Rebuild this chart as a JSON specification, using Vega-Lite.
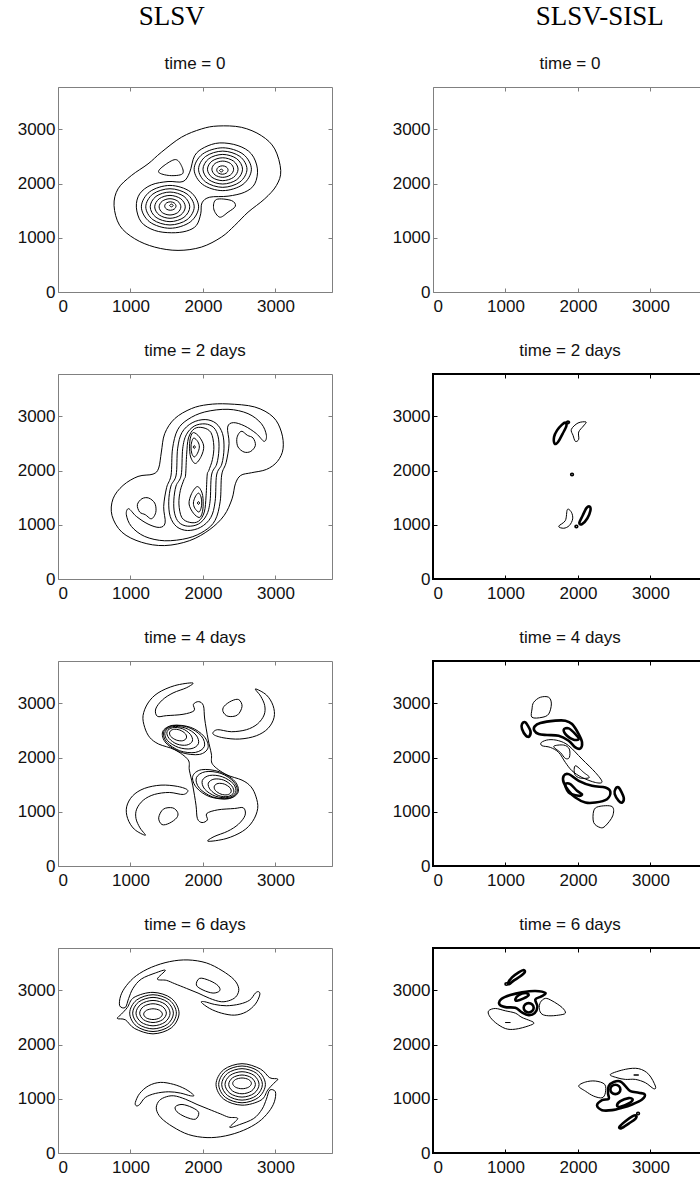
{
"$schema":"https://vega.github.io/schema/vega-lite/v6.json",
"padding":{"left":16,"top":3,"right":0,"bottom":0},
"config":{"font":"Liberation Sans","numberFormat":"d","view":{"stroke":"#808080","strokeWidth":1},
"axis":{"domain":false,"grid":false,"tickSize":-4,"tickColor":"#808080","labelFont":"Liberation Sans","labelFontSize":17,"labelColor":"#111","labelPadding":7,"title":null,"format":"d"},
"axisX":{"labelPadding":10},
"title":{"font":"Liberation Sans","fontSize":17,"fontWeight":"normal","color":"#111","baseline":"alphabetic","offset":14}},
"data":{"values":[
{"p":"L1","c":1,"s":"+","x":2208,"y":3061},{"p":"L1","c":1,"s":"+","x":2530,"y":3037},{"p":"L1","c":1,"s":"+","x":2806,"y":2883},{"p":"L1","c":1,"s":"+","x":2990,"y":2638},{"p":"L1","c":1,"s":"+","x":3073,"y":2239},{"p":"L1","c":1,"s":"+","x":3013,"y":1963},{"p":"L1","c":1,"s":"+","x":2852,"y":1718},{"p":"L1","c":1,"s":"+","x":2622,"y":1472},{"p":"L1","c":1,"s":"+","x":2438,"y":1227},{"p":"L1","c":1,"s":"+","x":2254,"y":1012},{"p":"L1","c":1,"s":"+","x":1978,"y":828},{"p":"L1","c":1,"s":"+","x":1656,"y":767},{"p":"L1","c":1,"s":"+","x":1334,"y":828},{"p":"L1","c":1,"s":"+","x":1058,"y":982},{"p":"L1","c":1,"s":"+","x":851,"y":1227},{"p":"L1","c":1,"s":"+","x":773,"y":1595},{"p":"L1","c":1,"s":"+","x":828,"y":1902},{"p":"L1","c":1,"s":"+","x":1012,"y":2147},{"p":"L1","c":1,"s":"+","x":1242,"y":2362},{"p":"L1","c":1,"s":"+","x":1426,"y":2577},{"p":"L1","c":1,"s":"+","x":1702,"y":2853},{"p":"L1","c":1,"s":"+","x":1978,"y":3006},
{"p":"L1","c":2,"s":"+","x":1619,"y":2442},{"p":"L1","c":2,"s":"+","x":1702,"y":2331},{"p":"L1","c":2,"s":"+","x":1716,"y":2178},{"p":"L1","c":2,"s":"+","x":1541,"y":2147},{"p":"L1","c":2,"s":"+","x":1389,"y":2209},{"p":"L1","c":2,"s":"+","x":1463,"y":2331},
{"p":"L1","c":3,"s":"+","x":2185,"y":1706},{"p":"L1","c":3,"s":"+","x":2392,"y":1687},{"p":"L1","c":3,"s":"+","x":2447,"y":1583},{"p":"L1","c":3,"s":"+","x":2346,"y":1472},{"p":"L1","c":3,"s":"+","x":2231,"y":1380},{"p":"L1","c":3,"s":"+","x":2148,"y":1534},
{"p":"L1","c":4,"s":"+","x":1725,"y":2037},{"p":"L1","c":4,"s":"+","x":1817,"y":2209},{"p":"L1","c":4,"s":"+","x":1886,"y":2515},{"p":"L1","c":4,"s":"+","x":2024,"y":2669},{"p":"L1","c":4,"s":"+","x":2231,"y":2749},{"p":"L1","c":4,"s":"+","x":2484,"y":2699},{"p":"L1","c":4,"s":"+","x":2668,"y":2546},{"p":"L1","c":4,"s":"+","x":2751,"y":2270},{"p":"L1","c":4,"s":"+","x":2714,"y":1994},{"p":"L1","c":4,"s":"+","x":2576,"y":1841},{"p":"L1","c":4,"s":"+","x":2346,"y":1767},{"p":"L1","c":4,"s":"+","x":2093,"y":1748},{"p":"L1","c":4,"s":"+","x":1987,"y":1644},{"p":"L1","c":4,"s":"+","x":1969,"y":1442},{"p":"L1","c":4,"s":"+","x":1909,"y":1227},{"p":"L1","c":4,"s":"+","x":1771,"y":1123},{"p":"L1","c":4,"s":"+","x":1564,"y":1092},{"p":"L1","c":4,"s":"+","x":1334,"y":1135},{"p":"L1","c":4,"s":"+","x":1150,"y":1288},{"p":"L1","c":4,"s":"+","x":1081,"y":1564},{"p":"L1","c":4,"s":"+","x":1127,"y":1810},{"p":"L1","c":4,"s":"+","x":1288,"y":1975},{"p":"L1","c":4,"s":"+","x":1518,"y":2037},
{"p":"L1","c":5,"s":"+","x":1940,"y":1570},{"p":"L1","c":5,"s":"+","x":1824,"y":1849},{"p":"L1","c":5,"s":"+","x":1545,"y":1965},{"p":"L1","c":5,"s":"+","x":1266,"y":1849},{"p":"L1","c":5,"s":"+","x":1150,"y":1570},{"p":"L1","c":5,"s":"+","x":1266,"y":1291},{"p":"L1","c":5,"s":"+","x":1545,"y":1175},{"p":"L1","c":5,"s":"+","x":1824,"y":1291},
{"p":"L1","c":6,"s":"+","x":1879,"y":1570},{"p":"L1","c":6,"s":"+","x":1781,"y":1806},{"p":"L1","c":6,"s":"+","x":1545,"y":1904},{"p":"L1","c":6,"s":"+","x":1309,"y":1806},{"p":"L1","c":6,"s":"+","x":1211,"y":1570},{"p":"L1","c":6,"s":"+","x":1309,"y":1334},{"p":"L1","c":6,"s":"+","x":1545,"y":1236},{"p":"L1","c":6,"s":"+","x":1781,"y":1334},
{"p":"L1","c":7,"s":"+","x":1818,"y":1570},{"p":"L1","c":7,"s":"+","x":1738,"y":1763},{"p":"L1","c":7,"s":"+","x":1545,"y":1843},{"p":"L1","c":7,"s":"+","x":1352,"y":1763},{"p":"L1","c":7,"s":"+","x":1272,"y":1570},{"p":"L1","c":7,"s":"+","x":1352,"y":1377},{"p":"L1","c":7,"s":"+","x":1545,"y":1297},{"p":"L1","c":7,"s":"+","x":1738,"y":1377},
{"p":"L1","c":8,"s":"+","x":1756,"y":1570},{"p":"L1","c":8,"s":"+","x":1694,"y":1719},{"p":"L1","c":8,"s":"+","x":1545,"y":1781},{"p":"L1","c":8,"s":"+","x":1396,"y":1719},{"p":"L1","c":8,"s":"+","x":1334,"y":1570},{"p":"L1","c":8,"s":"+","x":1396,"y":1421},{"p":"L1","c":8,"s":"+","x":1545,"y":1359},{"p":"L1","c":8,"s":"+","x":1694,"y":1421},
{"p":"L1","c":9,"s":"+","x":1695,"y":1570},{"p":"L1","c":9,"s":"+","x":1651,"y":1676},{"p":"L1","c":9,"s":"+","x":1545,"y":1720},{"p":"L1","c":9,"s":"+","x":1439,"y":1676},{"p":"L1","c":9,"s":"+","x":1395,"y":1570},{"p":"L1","c":9,"s":"+","x":1439,"y":1464},{"p":"L1","c":9,"s":"+","x":1545,"y":1420},{"p":"L1","c":9,"s":"+","x":1651,"y":1464},
{"p":"L1","c":10,"s":"+","x":1628,"y":1585},{"p":"L1","c":10,"s":"+","x":1605,"y":1640},{"p":"L1","c":10,"s":"+","x":1550,"y":1663},{"p":"L1","c":10,"s":"+","x":1495,"y":1640},{"p":"L1","c":10,"s":"+","x":1472,"y":1585},{"p":"L1","c":10,"s":"+","x":1495,"y":1530},{"p":"L1","c":10,"s":"+","x":1550,"y":1507},{"p":"L1","c":10,"s":"+","x":1605,"y":1530},
{"p":"L1","c":11,"s":"+","x":1590,"y":1595},{"p":"L1","c":11,"s":"+","x":1565,"y":1620},{"p":"L1","c":11,"s":"+","x":1540,"y":1595},{"p":"L1","c":11,"s":"+","x":1565,"y":1570},
{"p":"L1","c":12,"s":"+","x":1878,"y":2264},{"p":"L1","c":12,"s":"+","x":1994,"y":1985},{"p":"L1","c":12,"s":"+","x":2273,"y":1869},{"p":"L1","c":12,"s":"+","x":2552,"y":1985},{"p":"L1","c":12,"s":"+","x":2668,"y":2264},{"p":"L1","c":12,"s":"+","x":2552,"y":2543},{"p":"L1","c":12,"s":"+","x":2273,"y":2659},{"p":"L1","c":12,"s":"+","x":1994,"y":2543},
{"p":"L1","c":13,"s":"+","x":1939,"y":2264},{"p":"L1","c":13,"s":"+","x":2037,"y":2028},{"p":"L1","c":13,"s":"+","x":2273,"y":1930},{"p":"L1","c":13,"s":"+","x":2509,"y":2028},{"p":"L1","c":13,"s":"+","x":2607,"y":2264},{"p":"L1","c":13,"s":"+","x":2509,"y":2500},{"p":"L1","c":13,"s":"+","x":2273,"y":2598},{"p":"L1","c":13,"s":"+","x":2037,"y":2500},
{"p":"L1","c":14,"s":"+","x":2000,"y":2264},{"p":"L1","c":14,"s":"+","x":2080,"y":2071},{"p":"L1","c":14,"s":"+","x":2273,"y":1991},{"p":"L1","c":14,"s":"+","x":2466,"y":2071},{"p":"L1","c":14,"s":"+","x":2546,"y":2264},{"p":"L1","c":14,"s":"+","x":2466,"y":2457},{"p":"L1","c":14,"s":"+","x":2273,"y":2537},{"p":"L1","c":14,"s":"+","x":2080,"y":2457},
{"p":"L1","c":15,"s":"+","x":2062,"y":2264},{"p":"L1","c":15,"s":"+","x":2124,"y":2115},{"p":"L1","c":15,"s":"+","x":2273,"y":2053},{"p":"L1","c":15,"s":"+","x":2422,"y":2115},{"p":"L1","c":15,"s":"+","x":2484,"y":2264},{"p":"L1","c":15,"s":"+","x":2422,"y":2413},{"p":"L1","c":15,"s":"+","x":2273,"y":2475},{"p":"L1","c":15,"s":"+","x":2124,"y":2413},
{"p":"L1","c":16,"s":"+","x":2123,"y":2264},{"p":"L1","c":16,"s":"+","x":2167,"y":2158},{"p":"L1","c":16,"s":"+","x":2273,"y":2114},{"p":"L1","c":16,"s":"+","x":2379,"y":2158},{"p":"L1","c":16,"s":"+","x":2423,"y":2264},{"p":"L1","c":16,"s":"+","x":2379,"y":2370},{"p":"L1","c":16,"s":"+","x":2273,"y":2414},{"p":"L1","c":16,"s":"+","x":2167,"y":2370},
{"p":"L1","c":17,"s":"+","x":2190,"y":2249},{"p":"L1","c":17,"s":"+","x":2213,"y":2194},{"p":"L1","c":17,"s":"+","x":2268,"y":2171},{"p":"L1","c":17,"s":"+","x":2323,"y":2194},{"p":"L1","c":17,"s":"+","x":2346,"y":2249},{"p":"L1","c":17,"s":"+","x":2323,"y":2304},{"p":"L1","c":17,"s":"+","x":2268,"y":2327},{"p":"L1","c":17,"s":"+","x":2213,"y":2304},
{"p":"L1","c":18,"s":"+","x":2228,"y":2239},{"p":"L1","c":18,"s":"+","x":2253,"y":2214},{"p":"L1","c":18,"s":"+","x":2278,"y":2239},{"p":"L1","c":18,"s":"+","x":2253,"y":2264},

{"p":"L2","c":1,"s":"+","x":2346,"y":3228},{"p":"L2","c":1,"s":"+","x":2714,"y":3172},{"p":"L2","c":1,"s":"+","x":2967,"y":2988},{"p":"L2","c":1,"s":"+","x":3082,"y":2710},{"p":"L2","c":1,"s":"+","x":3105,"y":2402},{"p":"L2","c":1,"s":"+","x":3027,"y":2168},{"p":"L2","c":1,"s":"+","x":2875,"y":2020},{"p":"L2","c":1,"s":"+","x":2668,"y":1959},{"p":"L2","c":1,"s":"+","x":2521,"y":1910},{"p":"L2","c":1,"s":"+","x":2447,"y":1756},{"p":"L2","c":1,"s":"+","x":2401,"y":1478},{"p":"L2","c":1,"s":"+","x":2291,"y":1170},{"p":"L2","c":1,"s":"+","x":2093,"y":912},{"p":"L2","c":1,"s":"+","x":1817,"y":708},{"p":"L2","c":1,"s":"+","x":1472,"y":616},{"p":"L2","c":1,"s":"+","x":1150,"y":678},{"p":"L2","c":1,"s":"+","x":883,"y":862},{"p":"L2","c":1,"s":"+","x":745,"y":1170},{"p":"L2","c":1,"s":"+","x":759,"y":1478},{"p":"L2","c":1,"s":"+","x":897,"y":1725},{"p":"L2","c":1,"s":"+","x":1104,"y":1891},{"p":"L2","c":1,"s":"+","x":1311,"y":1934},{"p":"L2","c":1,"s":"+","x":1389,"y":2045},{"p":"L2","c":1,"s":"+","x":1426,"y":2341},{"p":"L2","c":1,"s":"+","x":1472,"y":2680},{"p":"L2","c":1,"s":"+","x":1610,"y":2957},{"p":"L2","c":1,"s":"+","x":1840,"y":3142},{"p":"L2","c":1,"s":"+","x":2070,"y":3216},
{"p":"L2","c":2,"s":"+","x":1560,"y":1917},{"p":"L2","c":2,"s":"+","x":1580,"y":2400},{"p":"L2","c":2,"s":"+","x":1650,"y":2750},{"p":"L2","c":2,"s":"+","x":1794,"y":2944},{"p":"L2","c":2,"s":"+","x":2024,"y":3080},{"p":"L2","c":2,"s":"+","x":2346,"y":3129},{"p":"L2","c":2,"s":"+","x":2622,"y":3049},{"p":"L2","c":2,"s":"+","x":2806,"y":2864},{"p":"L2","c":2,"s":"+","x":2875,"y":2649},{"p":"L2","c":2,"s":"+","x":2843,"y":2538},{"p":"L2","c":2,"s":"+","x":2737,"y":2680},{"p":"L2","c":2,"s":"+","x":2576,"y":2821},{"p":"L2","c":2,"s":"+","x":2420,"y":2883},{"p":"L2","c":2,"s":"+","x":2340,"y":2800},{"p":"L2","c":2,"s":"+","x":2360,"y":2500},{"p":"L2","c":2,"s":"+","x":2320,"y":2150},{"p":"L2","c":2,"s":"+","x":2258,"y":1917},{"p":"L2","c":2,"s":"+","x":2238,"y":1434},{"p":"L2","c":2,"s":"+","x":2168,"y":1084},{"p":"L2","c":2,"s":"+","x":2024,"y":890},{"p":"L2","c":2,"s":"+","x":1794,"y":754},{"p":"L2","c":2,"s":"+","x":1472,"y":705},{"p":"L2","c":2,"s":"+","x":1196,"y":785},{"p":"L2","c":2,"s":"+","x":1012,"y":970},{"p":"L2","c":2,"s":"+","x":943,"y":1185},{"p":"L2","c":2,"s":"+","x":975,"y":1296},{"p":"L2","c":2,"s":"+","x":1081,"y":1154},{"p":"L2","c":2,"s":"+","x":1242,"y":1013},{"p":"L2","c":2,"s":"+","x":1398,"y":951},{"p":"L2","c":2,"s":"+","x":1478,"y":1034},{"p":"L2","c":2,"s":"+","x":1458,"y":1334},{"p":"L2","c":2,"s":"+","x":1498,"y":1684},
{"p":"L2","c":3,"s":"+","x":1630,"y":1917},{"p":"L2","c":3,"s":"+","x":1650,"y":2400},{"p":"L2","c":3,"s":"+","x":1710,"y":2700},{"p":"L2","c":3,"s":"+","x":1850,"y":2880},{"p":"L2","c":3,"s":"+","x":2030,"y":2940},{"p":"L2","c":3,"s":"+","x":2180,"y":2870},{"p":"L2","c":3,"s":"+","x":2270,"y":2680},{"p":"L2","c":3,"s":"+","x":2290,"y":2400},{"p":"L2","c":3,"s":"+","x":2260,"y":2120},{"p":"L2","c":3,"s":"+","x":2188,"y":1917},{"p":"L2","c":3,"s":"+","x":2168,"y":1434},{"p":"L2","c":3,"s":"+","x":2108,"y":1134},{"p":"L2","c":3,"s":"+","x":1968,"y":954},{"p":"L2","c":3,"s":"+","x":1788,"y":894},{"p":"L2","c":3,"s":"+","x":1638,"y":964},{"p":"L2","c":3,"s":"+","x":1548,"y":1154},{"p":"L2","c":3,"s":"+","x":1528,"y":1434},{"p":"L2","c":3,"s":"+","x":1558,"y":1714},
{"p":"L2","c":4,"s":"+","x":1700,"y":1917},{"p":"L2","c":4,"s":"+","x":1720,"y":2400},{"p":"L2","c":4,"s":"+","x":1770,"y":2660},{"p":"L2","c":4,"s":"+","x":1880,"y":2820},{"p":"L2","c":4,"s":"+","x":2030,"y":2860},{"p":"L2","c":4,"s":"+","x":2150,"y":2790},{"p":"L2","c":4,"s":"+","x":2210,"y":2620},{"p":"L2","c":4,"s":"+","x":2220,"y":2380},{"p":"L2","c":4,"s":"+","x":2190,"y":2120},{"p":"L2","c":4,"s":"+","x":2118,"y":1917},{"p":"L2","c":4,"s":"+","x":2098,"y":1434},{"p":"L2","c":4,"s":"+","x":2048,"y":1174},{"p":"L2","c":4,"s":"+","x":1938,"y":1014},{"p":"L2","c":4,"s":"+","x":1788,"y":974},{"p":"L2","c":4,"s":"+","x":1668,"y":1044},{"p":"L2","c":4,"s":"+","x":1608,"y":1214},{"p":"L2","c":4,"s":"+","x":1598,"y":1454},{"p":"L2","c":4,"s":"+","x":1628,"y":1714},
{"p":"L2","c":5,"s":"+","x":1760,"y":1917},{"p":"L2","c":5,"s":"+","x":1775,"y":2300},{"p":"L2","c":5,"s":"+","x":1800,"y":2600},{"p":"L2","c":5,"s":"+","x":1880,"y":2770},{"p":"L2","c":5,"s":"+","x":2000,"y":2790},{"p":"L2","c":5,"s":"+","x":2110,"y":2700},{"p":"L2","c":5,"s":"+","x":2150,"y":2450},{"p":"L2","c":5,"s":"+","x":2130,"y":2200},{"p":"L2","c":5,"s":"+","x":2080,"y":2000},{"p":"L2","c":5,"s":"+","x":2058,"y":1917},{"p":"L2","c":5,"s":"+","x":2043,"y":1534},{"p":"L2","c":5,"s":"+","x":2018,"y":1234},{"p":"L2","c":5,"s":"+","x":1938,"y":1064},{"p":"L2","c":5,"s":"+","x":1818,"y":1044},{"p":"L2","c":5,"s":"+","x":1708,"y":1134},{"p":"L2","c":5,"s":"+","x":1668,"y":1384},{"p":"L2","c":5,"s":"+","x":1688,"y":1634},{"p":"L2","c":5,"s":"+","x":1738,"y":1834},
{"p":"L2","c":6,"s":"+","x":1870,"y":2700},{"p":"L2","c":6,"s":"+","x":1950,"y":2620},{"p":"L2","c":6,"s":"+","x":2010,"y":2450},{"p":"L2","c":6,"s":"+","x":1975,"y":2260},{"p":"L2","c":6,"s":"+","x":1895,"y":2130},{"p":"L2","c":6,"s":"+","x":1830,"y":2250},{"p":"L2","c":6,"s":"+","x":1815,"y":2450},{"p":"L2","c":6,"s":"+","x":1830,"y":2620},
{"p":"L2","c":7,"s":"+","x":1875,"y":2600},{"p":"L2","c":7,"s":"+","x":1930,"y":2530},{"p":"L2","c":7,"s":"+","x":1950,"y":2433},{"p":"L2","c":7,"s":"+","x":1925,"y":2320},{"p":"L2","c":7,"s":"+","x":1880,"y":2250},{"p":"L2","c":7,"s":"+","x":1845,"y":2320},{"p":"L2","c":7,"s":"+","x":1835,"y":2433},{"p":"L2","c":7,"s":"+","x":1845,"y":2530},
{"p":"L2","c":8,"s":"+","x":1880,"y":2460},{"p":"L2","c":8,"s":"+","x":1895,"y":2433},{"p":"L2","c":8,"s":"+","x":1880,"y":2406},{"p":"L2","c":8,"s":"+","x":1865,"y":2433},
{"p":"L2","c":9,"s":"+","x":1948,"y":1134},{"p":"L2","c":9,"s":"+","x":1868,"y":1214},{"p":"L2","c":9,"s":"+","x":1808,"y":1384},{"p":"L2","c":9,"s":"+","x":1843,"y":1574},{"p":"L2","c":9,"s":"+","x":1923,"y":1704},{"p":"L2","c":9,"s":"+","x":1988,"y":1584},{"p":"L2","c":9,"s":"+","x":2003,"y":1384},{"p":"L2","c":9,"s":"+","x":1988,"y":1214},
{"p":"L2","c":10,"s":"+","x":1943,"y":1234},{"p":"L2","c":10,"s":"+","x":1888,"y":1304},{"p":"L2","c":10,"s":"+","x":1868,"y":1401},{"p":"L2","c":10,"s":"+","x":1893,"y":1514},{"p":"L2","c":10,"s":"+","x":1938,"y":1584},{"p":"L2","c":10,"s":"+","x":1973,"y":1514},{"p":"L2","c":10,"s":"+","x":1983,"y":1401},{"p":"L2","c":10,"s":"+","x":1973,"y":1304},
{"p":"L2","c":11,"s":"+","x":1938,"y":1374},{"p":"L2","c":11,"s":"+","x":1923,"y":1401},{"p":"L2","c":11,"s":"+","x":1938,"y":1428},{"p":"L2","c":11,"s":"+","x":1953,"y":1401},
{"p":"L2","c":12,"s":"+","x":2539,"y":2723},{"p":"L2","c":12,"s":"+","x":2613,"y":2649},{"p":"L2","c":12,"s":"+","x":2691,"y":2600},{"p":"L2","c":12,"s":"+","x":2723,"y":2464},{"p":"L2","c":12,"s":"+","x":2659,"y":2353},{"p":"L2","c":12,"s":"+","x":2567,"y":2341},{"p":"L2","c":12,"s":"+","x":2484,"y":2433},{"p":"L2","c":12,"s":"+","x":2466,"y":2575},{"p":"L2","c":12,"s":"+","x":2493,"y":2680},
{"p":"L2","c":13,"s":"+","x":1279,"y":1111},{"p":"L2","c":13,"s":"+","x":1205,"y":1185},{"p":"L2","c":13,"s":"+","x":1127,"y":1234},{"p":"L2","c":13,"s":"+","x":1095,"y":1370},{"p":"L2","c":13,"s":"+","x":1159,"y":1481},{"p":"L2","c":13,"s":"+","x":1251,"y":1493},{"p":"L2","c":13,"s":"+","x":1334,"y":1401},{"p":"L2","c":13,"s":"+","x":1352,"y":1259},{"p":"L2","c":13,"s":"+","x":1325,"y":1154},

{"p":"L3","c":1,"s":"+","x":1794,"y":1959},{"p":"L3","c":1,"s":"+","x":1610,"y":2144},{"p":"L3","c":1,"s":"+","x":1389,"y":2248},{"p":"L3","c":1,"s":"+","x":1265,"y":2372},{"p":"L3","c":1,"s":"+","x":1196,"y":2556},{"p":"L3","c":1,"s":"+","x":1173,"y":2772},{"p":"L3","c":1,"s":"+","x":1242,"y":3006},{"p":"L3","c":1,"s":"+","x":1380,"y":3191},{"p":"L3","c":1,"s":"+","x":1610,"y":3326},{"p":"L3","c":1,"s":"+","x":1858,"y":3376},{"p":"L3","c":1,"s":"+","x":1776,"y":3289},{"p":"L3","c":1,"s":"+","x":1587,"y":3191},{"p":"L3","c":1,"s":"+","x":1440,"y":3062},{"p":"L3","c":1,"s":"+","x":1348,"y":2895},{"p":"L3","c":1,"s":"+","x":1371,"y":2760},{"p":"L3","c":1,"s":"+","x":1495,"y":2772},{"p":"L3","c":1,"s":"+","x":1725,"y":2797},{"p":"L3","c":1,"s":"+","x":1877,"y":2864},{"p":"L3","c":1,"s":"+","x":1868,"y":2981},{"p":"L3","c":1,"s":"+","x":1941,"y":3031},{"p":"L3","c":1,"s":"+","x":2006,"y":2957},{"p":"L3","c":1,"s":"+","x":2024,"y":2710},{"p":"L3","c":1,"s":"+","x":2070,"y":2341},{"p":"L3","c":1,"s":"+","x":2116,"y":2064},{"p":"L3","c":1,"s":"+","x":2134,"y":1873},{"p":"L3","c":1,"s":"+","x":2318,"y":1688},{"p":"L3","c":1,"s":"+","x":2539,"y":1583},{"p":"L3","c":1,"s":"+","x":2663,"y":1460},{"p":"L3","c":1,"s":"+","x":2732,"y":1275},{"p":"L3","c":1,"s":"+","x":2755,"y":1060},{"p":"L3","c":1,"s":"+","x":2686,"y":825},{"p":"L3","c":1,"s":"+","x":2548,"y":641},{"p":"L3","c":1,"s":"+","x":2318,"y":505},{"p":"L3","c":1,"s":"+","x":2070,"y":456},{"p":"L3","c":1,"s":"+","x":2153,"y":542},{"p":"L3","c":1,"s":"+","x":2341,"y":641},{"p":"L3","c":1,"s":"+","x":2489,"y":770},{"p":"L3","c":1,"s":"+","x":2581,"y":936},{"p":"L3","c":1,"s":"+","x":2558,"y":1072},{"p":"L3","c":1,"s":"+","x":2433,"y":1060},{"p":"L3","c":1,"s":"+","x":2203,"y":1035},{"p":"L3","c":1,"s":"+","x":2052,"y":967},{"p":"L3","c":1,"s":"+","x":2061,"y":850},{"p":"L3","c":1,"s":"+","x":1987,"y":801},{"p":"L3","c":1,"s":"+","x":1923,"y":875},{"p":"L3","c":1,"s":"+","x":1904,"y":1121},{"p":"L3","c":1,"s":"+","x":1858,"y":1491},{"p":"L3","c":1,"s":"+","x":1812,"y":1768},
{"p":"L3","c":2,"s":"+","x":1771,"y":2359},{"p":"L3","c":2,"s":"+","x":1720,"y":2310},{"p":"L3","c":2,"s":"+","x":1633,"y":2322},{"p":"L3","c":2,"s":"+","x":1555,"y":2390},{"p":"L3","c":2,"s":"+","x":1541,"y":2470},{"p":"L3","c":2,"s":"+","x":1592,"y":2519},{"p":"L3","c":2,"s":"+","x":1679,"y":2507},{"p":"L3","c":2,"s":"+","x":1757,"y":2439},
{"p":"L3","c":3,"s":"+","x":1854,"y":2304},{"p":"L3","c":3,"s":"+","x":1776,"y":2230},{"p":"L3","c":3,"s":"+","x":1642,"y":2248},{"p":"L3","c":3,"s":"+","x":1532,"y":2353},{"p":"L3","c":3,"s":"+","x":1504,"y":2476},{"p":"L3","c":3,"s":"+","x":1582,"y":2550},{"p":"L3","c":3,"s":"+","x":1716,"y":2532},{"p":"L3","c":3,"s":"+","x":1826,"y":2427},
{"p":"L3","c":4,"s":"+","x":1937,"y":2255},{"p":"L3","c":4,"s":"+","x":1835,"y":2162},{"p":"L3","c":4,"s":"+","x":1661,"y":2187},{"p":"L3","c":4,"s":"+","x":1509,"y":2316},{"p":"L3","c":4,"s":"+","x":1477,"y":2476},{"p":"L3","c":4,"s":"+","x":1578,"y":2569},{"p":"L3","c":4,"s":"+","x":1757,"y":2544},{"p":"L3","c":4,"s":"+","x":1904,"y":2415},
{"p":"L3","c":5,"s":"+","x":2019,"y":2205},{"p":"L3","c":5,"s":"+","x":1895,"y":2094},{"p":"L3","c":5,"s":"+","x":1679,"y":2125},{"p":"L3","c":5,"s":"+","x":1500,"y":2285},{"p":"L3","c":5,"s":"+","x":1458,"y":2476},{"p":"L3","c":5,"s":"+","x":1582,"y":2587},{"p":"L3","c":5,"s":"+","x":1799,"y":2556},{"p":"L3","c":5,"s":"+","x":1978,"y":2396},
{"p":"L3","c":6,"s":"+","x":2070,"y":2181},{"p":"L3","c":6,"s":"+","x":1950,"y":2057},{"p":"L3","c":6,"s":"+","x":1702,"y":2094},{"p":"L3","c":6,"s":"+","x":1490,"y":2267},{"p":"L3","c":6,"s":"+","x":1444,"y":2476},{"p":"L3","c":6,"s":"+","x":1582,"y":2593},{"p":"L3","c":6,"s":"+","x":1831,"y":2556},{"p":"L3","c":6,"s":"+","x":2015,"y":2390},
{"p":"L3","c":7,"s":"+","x":2157,"y":1473},{"p":"L3","c":7,"s":"+","x":2208,"y":1522},{"p":"L3","c":7,"s":"+","x":2295,"y":1510},{"p":"L3","c":7,"s":"+","x":2373,"y":1442},{"p":"L3","c":7,"s":"+","x":2387,"y":1362},{"p":"L3","c":7,"s":"+","x":2336,"y":1313},{"p":"L3","c":7,"s":"+","x":2249,"y":1325},{"p":"L3","c":7,"s":"+","x":2171,"y":1393},
{"p":"L3","c":8,"s":"+","x":2074,"y":1528},{"p":"L3","c":8,"s":"+","x":2152,"y":1602},{"p":"L3","c":8,"s":"+","x":2286,"y":1584},{"p":"L3","c":8,"s":"+","x":2396,"y":1479},{"p":"L3","c":8,"s":"+","x":2424,"y":1356},{"p":"L3","c":8,"s":"+","x":2346,"y":1282},{"p":"L3","c":8,"s":"+","x":2212,"y":1300},{"p":"L3","c":8,"s":"+","x":2102,"y":1405},
{"p":"L3","c":9,"s":"+","x":1991,"y":1577},{"p":"L3","c":9,"s":"+","x":2093,"y":1670},{"p":"L3","c":9,"s":"+","x":2267,"y":1645},{"p":"L3","c":9,"s":"+","x":2419,"y":1516},{"p":"L3","c":9,"s":"+","x":2451,"y":1356},{"p":"L3","c":9,"s":"+","x":2350,"y":1263},{"p":"L3","c":9,"s":"+","x":2171,"y":1288},{"p":"L3","c":9,"s":"+","x":2024,"y":1417},
{"p":"L3","c":10,"s":"+","x":1909,"y":1627},{"p":"L3","c":10,"s":"+","x":2033,"y":1738},{"p":"L3","c":10,"s":"+","x":2249,"y":1707},{"p":"L3","c":10,"s":"+","x":2428,"y":1547},{"p":"L3","c":10,"s":"+","x":2470,"y":1356},{"p":"L3","c":10,"s":"+","x":2346,"y":1245},{"p":"L3","c":10,"s":"+","x":2129,"y":1276},{"p":"L3","c":10,"s":"+","x":1950,"y":1436},
{"p":"L3","c":11,"s":"+","x":1858,"y":1651},{"p":"L3","c":11,"s":"+","x":1978,"y":1775},{"p":"L3","c":11,"s":"+","x":2226,"y":1738},{"p":"L3","c":11,"s":"+","x":2438,"y":1565},{"p":"L3","c":11,"s":"+","x":2484,"y":1356},{"p":"L3","c":11,"s":"+","x":2346,"y":1239},{"p":"L3","c":11,"s":"+","x":2097,"y":1276},{"p":"L3","c":11,"s":"+","x":1913,"y":1442},
{"p":"L3","c":12,"s":"+","x":2723,"y":3265},{"p":"L3","c":12,"s":"+","x":2875,"y":3154},{"p":"L3","c":12,"s":"+","x":2967,"y":2957},{"p":"L3","c":12,"s":"+","x":2981,"y":2741},{"p":"L3","c":12,"s":"+","x":2898,"y":2538},{"p":"L3","c":12,"s":"+","x":2737,"y":2402},{"p":"L3","c":12,"s":"+","x":2507,"y":2341},{"p":"L3","c":12,"s":"+","x":2277,"y":2365},{"p":"L3","c":12,"s":"+","x":2139,"y":2433},{"p":"L3","c":12,"s":"+","x":2199,"y":2513},{"p":"L3","c":12,"s":"+","x":2392,"y":2476},{"p":"L3","c":12,"s":"+","x":2599,"y":2513},{"p":"L3","c":12,"s":"+","x":2751,"y":2618},{"p":"L3","c":12,"s":"+","x":2843,"y":2784},{"p":"L3","c":12,"s":"+","x":2852,"y":2957},{"p":"L3","c":12,"s":"+","x":2797,"y":3129},
{"p":"L3","c":13,"s":"+","x":1205,"y":567},{"p":"L3","c":13,"s":"+","x":1053,"y":678},{"p":"L3","c":13,"s":"+","x":961,"y":875},{"p":"L3","c":13,"s":"+","x":947,"y":1091},{"p":"L3","c":13,"s":"+","x":1030,"y":1294},{"p":"L3","c":13,"s":"+","x":1191,"y":1430},{"p":"L3","c":13,"s":"+","x":1421,"y":1491},{"p":"L3","c":13,"s":"+","x":1651,"y":1467},{"p":"L3","c":13,"s":"+","x":1789,"y":1399},{"p":"L3","c":13,"s":"+","x":1729,"y":1319},{"p":"L3","c":13,"s":"+","x":1536,"y":1356},{"p":"L3","c":13,"s":"+","x":1329,"y":1319},{"p":"L3","c":13,"s":"+","x":1177,"y":1214},{"p":"L3","c":13,"s":"+","x":1085,"y":1048},{"p":"L3","c":13,"s":"+","x":1076,"y":875},{"p":"L3","c":13,"s":"+","x":1131,"y":703},
{"p":"L3","c":14,"s":"+","x":2291,"y":2944},{"p":"L3","c":14,"s":"+","x":2392,"y":3043},{"p":"L3","c":14,"s":"+","x":2493,"y":3068},{"p":"L3","c":14,"s":"+","x":2539,"y":2944},{"p":"L3","c":14,"s":"+","x":2475,"y":2784},{"p":"L3","c":14,"s":"+","x":2346,"y":2760},{"p":"L3","c":14,"s":"+","x":2277,"y":2846},
{"p":"L3","c":15,"s":"+","x":1637,"y":888},{"p":"L3","c":15,"s":"+","x":1536,"y":789},{"p":"L3","c":15,"s":"+","x":1435,"y":764},{"p":"L3","c":15,"s":"+","x":1389,"y":888},{"p":"L3","c":15,"s":"+","x":1453,"y":1048},{"p":"L3","c":15,"s":"+","x":1582,"y":1072},{"p":"L3","c":15,"s":"+","x":1651,"y":986},

{"p":"L4","c":1,"s":"+","x":851,"y":2715},{"p":"L4","c":1,"s":"+","x":865,"y":2900},{"p":"L4","c":1,"s":"+","x":943,"y":3085},{"p":"L4","c":1,"s":"+","x":1081,"y":3270},{"p":"L4","c":1,"s":"+","x":1288,"y":3424},{"p":"L4","c":1,"s":"+","x":1541,"y":3529},{"p":"L4","c":1,"s":"+","x":1794,"y":3560},{"p":"L4","c":1,"s":"+","x":2047,"y":3505},{"p":"L4","c":1,"s":"+","x":2263,"y":3363},{"p":"L4","c":1,"s":"+","x":2429,"y":3196},{"p":"L4","c":1,"s":"+","x":2493,"y":3036},{"p":"L4","c":1,"s":"+","x":2466,"y":2900},{"p":"L4","c":1,"s":"+","x":2383,"y":2820},{"p":"L4","c":1,"s":"+","x":2254,"y":2789},{"p":"L4","c":1,"s":"+","x":2093,"y":2851},{"p":"L4","c":1,"s":"+","x":1932,"y":2949},{"p":"L4","c":1,"s":"+","x":1771,"y":3036},{"p":"L4","c":1,"s":"+","x":1610,"y":3122},{"p":"L4","c":1,"s":"+","x":1495,"y":3184},{"p":"L4","c":1,"s":"+","x":1371,"y":3208},{"p":"L4","c":1,"s":"+","x":1481,"y":3369},{"p":"L4","c":1,"s":"+","x":1343,"y":3319},{"p":"L4","c":1,"s":"+","x":1150,"y":3208},{"p":"L4","c":1,"s":"+","x":1035,"y":3036},{"p":"L4","c":1,"s":"+","x":975,"y":2851},{"p":"L4","c":1,"s":"+","x":929,"y":2684},
{"p":"L4","c":2,"s":"+","x":1955,"y":3221},{"p":"L4","c":2,"s":"+","x":2093,"y":3178},{"p":"L4","c":2,"s":"+","x":2208,"y":3085},{"p":"L4","c":2,"s":"+","x":2231,"y":2992},{"p":"L4","c":2,"s":"+","x":2139,"y":2949},{"p":"L4","c":2,"s":"+","x":2001,"y":3005},{"p":"L4","c":2,"s":"+","x":1909,"y":3097},
{"p":"L4","c":3,"s":"+","x":1978,"y":2777},{"p":"L4","c":3,"s":"+","x":2093,"y":2665},{"p":"L4","c":3,"s":"+","x":2254,"y":2579},{"p":"L4","c":3,"s":"+","x":2438,"y":2542},{"p":"L4","c":3,"s":"+","x":2599,"y":2604},{"p":"L4","c":3,"s":"+","x":2723,"y":2746},{"p":"L4","c":3,"s":"+","x":2783,"y":2912},{"p":"L4","c":3,"s":"+","x":2769,"y":2974},{"p":"L4","c":3,"s":"+","x":2723,"y":2949},{"p":"L4","c":3,"s":"+","x":2645,"y":2820},{"p":"L4","c":3,"s":"+","x":2507,"y":2746},{"p":"L4","c":3,"s":"+","x":2323,"y":2715},{"p":"L4","c":3,"s":"+","x":2162,"y":2739},{"p":"L4","c":3,"s":"+","x":2024,"y":2789},
{"p":"L4","c":4,"s":"+","x":1440,"y":2560},{"p":"L4","c":4,"s":"+","x":1402,"y":2630},{"p":"L4","c":4,"s":"+","x":1311,"y":2659},{"p":"L4","c":4,"s":"+","x":1220,"y":2630},{"p":"L4","c":4,"s":"+","x":1182,"y":2560},{"p":"L4","c":4,"s":"+","x":1220,"y":2490},{"p":"L4","c":4,"s":"+","x":1311,"y":2461},{"p":"L4","c":4,"s":"+","x":1402,"y":2490},
{"p":"L4","c":5,"s":"+","x":1495,"y":2579},{"p":"L4","c":5,"s":"+","x":1441,"y":2701},{"p":"L4","c":5,"s":"+","x":1311,"y":2752},{"p":"L4","c":5,"s":"+","x":1181,"y":2701},{"p":"L4","c":5,"s":"+","x":1127,"y":2579},{"p":"L4","c":5,"s":"+","x":1181,"y":2457},{"p":"L4","c":5,"s":"+","x":1311,"y":2406},{"p":"L4","c":5,"s":"+","x":1441,"y":2457},
{"p":"L4","c":6,"s":"+","x":1546,"y":2579},{"p":"L4","c":6,"s":"+","x":1477,"y":2744},{"p":"L4","c":6,"s":"+","x":1311,"y":2813},{"p":"L4","c":6,"s":"+","x":1145,"y":2744},{"p":"L4","c":6,"s":"+","x":1076,"y":2579},{"p":"L4","c":6,"s":"+","x":1145,"y":2414},{"p":"L4","c":6,"s":"+","x":1311,"y":2345},{"p":"L4","c":6,"s":"+","x":1477,"y":2414},
{"p":"L4","c":7,"s":"+","x":1592,"y":2579},{"p":"L4","c":7,"s":"+","x":1510,"y":2784},{"p":"L4","c":7,"s":"+","x":1311,"y":2869},{"p":"L4","c":7,"s":"+","x":1112,"y":2784},{"p":"L4","c":7,"s":"+","x":1030,"y":2579},{"p":"L4","c":7,"s":"+","x":1112,"y":2374},{"p":"L4","c":7,"s":"+","x":1311,"y":2289},{"p":"L4","c":7,"s":"+","x":1510,"y":2374},
{"p":"L4","c":8,"s":"+","x":1633,"y":2579},{"p":"L4","c":8,"s":"+","x":1539,"y":2819},{"p":"L4","c":8,"s":"+","x":1311,"y":2918},{"p":"L4","c":8,"s":"+","x":1083,"y":2819},{"p":"L4","c":8,"s":"+","x":989,"y":2579},{"p":"L4","c":8,"s":"+","x":1083,"y":2339},{"p":"L4","c":8,"s":"+","x":1311,"y":2240},{"p":"L4","c":8,"s":"+","x":1539,"y":2339},
{"p":"L4","c":9,"s":"+","x":1670,"y":2579},{"p":"L4","c":9,"s":"+","x":1564,"y":2851},{"p":"L4","c":9,"s":"+","x":1311,"y":2962},{"p":"L4","c":9,"s":"+","x":1049,"y":2869},{"p":"L4","c":9,"s":"+","x":957,"y":2684},{"p":"L4","c":9,"s":"+","x":874,"y":2560},{"p":"L4","c":9,"s":"+","x":819,"y":2480},{"p":"L4","c":9,"s":"+","x":929,"y":2456},{"p":"L4","c":9,"s":"+","x":1058,"y":2295},{"p":"L4","c":9,"s":"+","x":1311,"y":2197},{"p":"L4","c":9,"s":"+","x":1564,"y":2308},
{"p":"L4","c":10,"s":"+","x":2999,"y":1129},{"p":"L4","c":10,"s":"+","x":2985,"y":944},{"p":"L4","c":10,"s":"+","x":2907,"y":759},{"p":"L4","c":10,"s":"+","x":2769,"y":574},{"p":"L4","c":10,"s":"+","x":2562,"y":420},{"p":"L4","c":10,"s":"+","x":2309,"y":315},{"p":"L4","c":10,"s":"+","x":2056,"y":284},{"p":"L4","c":10,"s":"+","x":1803,"y":339},{"p":"L4","c":10,"s":"+","x":1587,"y":481},{"p":"L4","c":10,"s":"+","x":1421,"y":648},{"p":"L4","c":10,"s":"+","x":1357,"y":808},{"p":"L4","c":10,"s":"+","x":1384,"y":944},{"p":"L4","c":10,"s":"+","x":1467,"y":1024},{"p":"L4","c":10,"s":"+","x":1596,"y":1055},{"p":"L4","c":10,"s":"+","x":1757,"y":993},{"p":"L4","c":10,"s":"+","x":1918,"y":895},{"p":"L4","c":10,"s":"+","x":2079,"y":808},{"p":"L4","c":10,"s":"+","x":2240,"y":722},{"p":"L4","c":10,"s":"+","x":2355,"y":660},{"p":"L4","c":10,"s":"+","x":2479,"y":636},{"p":"L4","c":10,"s":"+","x":2369,"y":475},{"p":"L4","c":10,"s":"+","x":2507,"y":525},{"p":"L4","c":10,"s":"+","x":2700,"y":636},{"p":"L4","c":10,"s":"+","x":2815,"y":808},{"p":"L4","c":10,"s":"+","x":2875,"y":993},{"p":"L4","c":10,"s":"+","x":2921,"y":1160},
{"p":"L4","c":11,"s":"+","x":1895,"y":623},{"p":"L4","c":11,"s":"+","x":1757,"y":666},{"p":"L4","c":11,"s":"+","x":1642,"y":759},{"p":"L4","c":11,"s":"+","x":1619,"y":852},{"p":"L4","c":11,"s":"+","x":1711,"y":895},{"p":"L4","c":11,"s":"+","x":1849,"y":839},{"p":"L4","c":11,"s":"+","x":1941,"y":747},
{"p":"L4","c":12,"s":"+","x":1872,"y":1067},{"p":"L4","c":12,"s":"+","x":1757,"y":1179},{"p":"L4","c":12,"s":"+","x":1596,"y":1265},{"p":"L4","c":12,"s":"+","x":1412,"y":1302},{"p":"L4","c":12,"s":"+","x":1251,"y":1240},{"p":"L4","c":12,"s":"+","x":1127,"y":1098},{"p":"L4","c":12,"s":"+","x":1067,"y":932},{"p":"L4","c":12,"s":"+","x":1081,"y":870},{"p":"L4","c":12,"s":"+","x":1127,"y":895},{"p":"L4","c":12,"s":"+","x":1205,"y":1024},{"p":"L4","c":12,"s":"+","x":1343,"y":1098},{"p":"L4","c":12,"s":"+","x":1527,"y":1129},{"p":"L4","c":12,"s":"+","x":1688,"y":1105},{"p":"L4","c":12,"s":"+","x":1826,"y":1055},
{"p":"L4","c":13,"s":"+","x":2410,"y":1284},{"p":"L4","c":13,"s":"+","x":2448,"y":1214},{"p":"L4","c":13,"s":"+","x":2539,"y":1185},{"p":"L4","c":13,"s":"+","x":2630,"y":1214},{"p":"L4","c":13,"s":"+","x":2668,"y":1284},{"p":"L4","c":13,"s":"+","x":2630,"y":1354},{"p":"L4","c":13,"s":"+","x":2539,"y":1383},{"p":"L4","c":13,"s":"+","x":2448,"y":1354},
{"p":"L4","c":14,"s":"+","x":2355,"y":1265},{"p":"L4","c":14,"s":"+","x":2409,"y":1143},{"p":"L4","c":14,"s":"+","x":2539,"y":1092},{"p":"L4","c":14,"s":"+","x":2669,"y":1143},{"p":"L4","c":14,"s":"+","x":2723,"y":1265},{"p":"L4","c":14,"s":"+","x":2669,"y":1387},{"p":"L4","c":14,"s":"+","x":2539,"y":1438},{"p":"L4","c":14,"s":"+","x":2409,"y":1387},
{"p":"L4","c":15,"s":"+","x":2304,"y":1265},{"p":"L4","c":15,"s":"+","x":2373,"y":1100},{"p":"L4","c":15,"s":"+","x":2539,"y":1031},{"p":"L4","c":15,"s":"+","x":2705,"y":1100},{"p":"L4","c":15,"s":"+","x":2774,"y":1265},{"p":"L4","c":15,"s":"+","x":2705,"y":1430},{"p":"L4","c":15,"s":"+","x":2539,"y":1499},{"p":"L4","c":15,"s":"+","x":2373,"y":1430},
{"p":"L4","c":16,"s":"+","x":2258,"y":1265},{"p":"L4","c":16,"s":"+","x":2340,"y":1060},{"p":"L4","c":16,"s":"+","x":2539,"y":975},{"p":"L4","c":16,"s":"+","x":2738,"y":1060},{"p":"L4","c":16,"s":"+","x":2820,"y":1265},{"p":"L4","c":16,"s":"+","x":2738,"y":1470},{"p":"L4","c":16,"s":"+","x":2539,"y":1555},{"p":"L4","c":16,"s":"+","x":2340,"y":1470},
{"p":"L4","c":17,"s":"+","x":2217,"y":1265},{"p":"L4","c":17,"s":"+","x":2311,"y":1025},{"p":"L4","c":17,"s":"+","x":2539,"y":926},{"p":"L4","c":17,"s":"+","x":2767,"y":1025},{"p":"L4","c":17,"s":"+","x":2861,"y":1265},{"p":"L4","c":17,"s":"+","x":2767,"y":1505},{"p":"L4","c":17,"s":"+","x":2539,"y":1604},{"p":"L4","c":17,"s":"+","x":2311,"y":1505},
{"p":"L4","c":18,"s":"+","x":2180,"y":1265},{"p":"L4","c":18,"s":"+","x":2286,"y":993},{"p":"L4","c":18,"s":"+","x":2539,"y":882},{"p":"L4","c":18,"s":"+","x":2801,"y":975},{"p":"L4","c":18,"s":"+","x":2893,"y":1160},{"p":"L4","c":18,"s":"+","x":2976,"y":1284},{"p":"L4","c":18,"s":"+","x":3031,"y":1364},{"p":"L4","c":18,"s":"+","x":2921,"y":1388},{"p":"L4","c":18,"s":"+","x":2792,"y":1549},{"p":"L4","c":18,"s":"+","x":2539,"y":1647},{"p":"L4","c":18,"s":"+","x":2286,"y":1536},

{"p":"R2","c":1,"s":"-","x":1679,"y":2495},{"p":"R2","c":1,"s":"-","x":1670,"y":2618},{"p":"R2","c":1,"s":"-","x":1711,"y":2741},{"p":"R2","c":1,"s":"-","x":1780,"y":2846},{"p":"R2","c":1,"s":"-","x":1826,"y":2883},{"p":"R2","c":1,"s":"-","x":1840,"y":2821},{"p":"R2","c":1,"s":"-","x":1789,"y":2680},{"p":"R2","c":1,"s":"-","x":1725,"y":2526},
{"p":"R2","c":2,"s":"-","x":1848,"y":2889},{"p":"R2","c":2,"s":"-","x":1862,"y":2905},{"p":"R2","c":2,"s":"-","x":1876,"y":2889},{"p":"R2","c":2,"s":"-","x":1862,"y":2873},
{"p":"R2","c":3,"s":"+","x":1909,"y":2760},{"p":"R2","c":3,"s":"+","x":2001,"y":2877},{"p":"R2","c":3,"s":"+","x":2111,"y":2895},{"p":"R2","c":3,"s":"+","x":2075,"y":2821},{"p":"R2","c":3,"s":"+","x":2010,"y":2710},{"p":"R2","c":3,"s":"+","x":2010,"y":2575},{"p":"R2","c":3,"s":"+","x":1964,"y":2538},{"p":"R2","c":3,"s":"+","x":1932,"y":2649},
{"p":"R2","c":4,"s":"-","x":1906,"y":1928},{"p":"R2","c":4,"s":"-","x":1918,"y":1942},{"p":"R2","c":4,"s":"-","x":1930,"y":1928},{"p":"R2","c":4,"s":"-","x":1918,"y":1914},
{"p":"R2","c":5,"s":"+","x":1734,"y":973},{"p":"R2","c":5,"s":"+","x":1826,"y":1078},{"p":"R2","c":5,"s":"+","x":1854,"y":1281},{"p":"R2","c":5,"s":"+","x":1909,"y":1232},{"p":"R2","c":5,"s":"+","x":1927,"y":1109},{"p":"R2","c":5,"s":"+","x":1881,"y":986},{"p":"R2","c":5,"s":"+","x":1803,"y":936},
{"p":"R2","c":6,"s":"-","x":2019,"y":1035},{"p":"R2","c":6,"s":"-","x":2065,"y":1170},{"p":"R2","c":6,"s":"-","x":2116,"y":1306},{"p":"R2","c":6,"s":"-","x":2162,"y":1337},{"p":"R2","c":6,"s":"-","x":2171,"y":1257},{"p":"R2","c":6,"s":"-","x":2130,"y":1121},{"p":"R2","c":6,"s":"-","x":2056,"y":1010},
{"p":"R2","c":7,"s":"-","x":1966,"y":967},{"p":"R2","c":7,"s":"-","x":1978,"y":981},{"p":"R2","c":7,"s":"-","x":1990,"y":967},{"p":"R2","c":7,"s":"-","x":1978,"y":953},

{"p":"R3","c":1,"s":"+","x":1366,"y":2895},{"p":"R3","c":1,"s":"+","x":1389,"y":3018},{"p":"R3","c":1,"s":"+","x":1481,"y":3111},{"p":"R3","c":1,"s":"+","x":1596,"y":3111},{"p":"R3","c":1,"s":"+","x":1633,"y":2988},{"p":"R3","c":1,"s":"+","x":1596,"y":2803},{"p":"R3","c":1,"s":"+","x":1504,"y":2741},{"p":"R3","c":1,"s":"+","x":1366,"y":2741},
{"p":"R3","c":2,"s":"-","x":1228,"y":2618},{"p":"R3","c":2,"s":"-","x":1274,"y":2649},{"p":"R3","c":2,"s":"-","x":1343,"y":2495},{"p":"R3","c":2,"s":"-","x":1329,"y":2390},{"p":"R3","c":2,"s":"-","x":1283,"y":2402},{"p":"R3","c":2,"s":"-","x":1228,"y":2526},
{"p":"R3","c":3,"s":"-","x":1403,"y":2575},{"p":"R3","c":3,"s":"-","x":1481,"y":2636},{"p":"R3","c":3,"s":"-","x":1688,"y":2680},{"p":"R3","c":3,"s":"-","x":1826,"y":2680},{"p":"R3","c":3,"s":"-","x":1918,"y":2618},{"p":"R3","c":3,"s":"-","x":2010,"y":2433},{"p":"R3","c":3,"s":"-","x":2056,"y":2279},{"p":"R3","c":3,"s":"-","x":2033,"y":2168},{"p":"R3","c":3,"s":"-","x":1964,"y":2187},{"p":"R3","c":3,"s":"-","x":1872,"y":2310},{"p":"R3","c":3,"s":"-","x":1734,"y":2402},{"p":"R3","c":3,"s":"-","x":1573,"y":2415},{"p":"R3","c":3,"s":"-","x":1458,"y":2433},{"p":"R3","c":3,"s":"-","x":1398,"y":2495},
{"p":"R3","c":4,"s":"-","x":1803,"y":2513},{"p":"R3","c":4,"s":"-","x":1872,"y":2538},{"p":"R3","c":4,"s":"-","x":1964,"y":2433},{"p":"R3","c":4,"s":"-","x":2010,"y":2341},{"p":"R3","c":4,"s":"-","x":1941,"y":2328},{"p":"R3","c":4,"s":"-","x":1849,"y":2402},
{"p":"R3","c":5,"s":"+","x":1495,"y":2279},{"p":"R3","c":5,"s":"+","x":1596,"y":2328},{"p":"R3","c":5,"s":"+","x":1734,"y":2310},{"p":"R3","c":5,"s":"+","x":1872,"y":2218},{"p":"R3","c":5,"s":"+","x":2056,"y":1971},{"p":"R3","c":5,"s":"+","x":2240,"y":1725},{"p":"R3","c":5,"s":"+","x":2332,"y":1552},{"p":"R3","c":5,"s":"+","x":2240,"y":1540},{"p":"R3","c":5,"s":"+","x":2056,"y":1632},{"p":"R3","c":5,"s":"+","x":1918,"y":1756},{"p":"R3","c":5,"s":"+","x":1826,"y":1910},{"p":"R3","c":5,"s":"+","x":1734,"y":2094},{"p":"R3","c":5,"s":"+","x":1619,"y":2187},{"p":"R3","c":5,"s":"+","x":1504,"y":2218},
{"p":"R3","c":6,"s":"+","x":1665,"y":2205},{"p":"R3","c":6,"s":"+","x":1803,"y":2230},{"p":"R3","c":6,"s":"+","x":1881,"y":2156},{"p":"R3","c":6,"s":"+","x":1881,"y":2002},{"p":"R3","c":6,"s":"+","x":1826,"y":1984},{"p":"R3","c":6,"s":"+","x":1757,"y":2094},
{"p":"R3","c":7,"s":"+","x":1964,"y":1848},{"p":"R3","c":7,"s":"+","x":2079,"y":1725},{"p":"R3","c":7,"s":"+","x":2157,"y":1632},{"p":"R3","c":7,"s":"+","x":2033,"y":1620},{"p":"R3","c":7,"s":"+","x":1955,"y":1694},
{"p":"R3","c":8,"s":"-","x":1803,"y":1663},{"p":"R3","c":8,"s":"-","x":1872,"y":1694},{"p":"R3","c":8,"s":"-","x":2010,"y":1571},{"p":"R3","c":8,"s":"-","x":2194,"y":1478},{"p":"R3","c":8,"s":"-","x":2378,"y":1448},{"p":"R3","c":8,"s":"-","x":2447,"y":1368},{"p":"R3","c":8,"s":"-","x":2401,"y":1232},{"p":"R3","c":8,"s":"-","x":2240,"y":1170},{"p":"R3","c":8,"s":"-","x":2102,"y":1170},{"p":"R3","c":8,"s":"-","x":1964,"y":1263},{"p":"R3","c":8,"s":"-","x":1872,"y":1386},{"p":"R3","c":8,"s":"-","x":1803,"y":1540},
{"p":"R3","c":9,"s":"-","x":1826,"y":1509},{"p":"R3","c":9,"s":"-","x":1895,"y":1509},{"p":"R3","c":9,"s":"-","x":1987,"y":1386},{"p":"R3","c":9,"s":"-","x":2056,"y":1324},{"p":"R3","c":9,"s":"-","x":2010,"y":1294},{"p":"R3","c":9,"s":"-","x":1872,"y":1355},
{"p":"R3","c":10,"s":"-","x":2516,"y":1417},{"p":"R3","c":10,"s":"-","x":2562,"y":1448},{"p":"R3","c":10,"s":"-","x":2631,"y":1263},{"p":"R3","c":10,"s":"-","x":2608,"y":1170},{"p":"R3","c":10,"s":"-","x":2562,"y":1201},{"p":"R3","c":10,"s":"-","x":2507,"y":1324},
{"p":"R3","c":11,"s":"+","x":2217,"y":1016},{"p":"R3","c":11,"s":"+","x":2286,"y":1096},{"p":"R3","c":11,"s":"+","x":2470,"y":1096},{"p":"R3","c":11,"s":"+","x":2479,"y":924},{"p":"R3","c":11,"s":"+","x":2378,"y":739},{"p":"R3","c":11,"s":"+","x":2309,"y":708},{"p":"R3","c":11,"s":"+","x":2217,"y":801},

{"p":"R4","c":1,"s":"-","x":1035,"y":3134},{"p":"R4","c":1,"s":"-","x":1090,"y":3239},{"p":"R4","c":1,"s":"-","x":1182,"y":3332},{"p":"R4","c":1,"s":"-","x":1251,"y":3375},{"p":"R4","c":1,"s":"-","x":1265,"y":3332},{"p":"R4","c":1,"s":"-","x":1205,"y":3258},{"p":"R4","c":1,"s":"-","x":1113,"y":3178},{"p":"R4","c":1,"s":"-","x":1053,"y":3116},
{"p":"R4","c":2,"s":"-","x":1000,"y":3116},{"p":"R4","c":2,"s":"-","x":1012,"y":3128},{"p":"R4","c":2,"s":"-","x":1024,"y":3116},{"p":"R4","c":2,"s":"-","x":1012,"y":3104},
{"p":"R4","c":3,"s":"-","x":915,"y":2746},{"p":"R4","c":3,"s":"-","x":943,"y":2838},{"p":"R4","c":3,"s":"-","x":1067,"y":2912},{"p":"R4","c":3,"s":"-","x":1228,"y":2962},{"p":"R4","c":3,"s":"-","x":1412,"y":2986},{"p":"R4","c":3,"s":"-","x":1550,"y":2949},{"p":"R4","c":3,"s":"-","x":1495,"y":2888},{"p":"R4","c":3,"s":"-","x":1412,"y":2830},{"p":"R4","c":3,"s":"-","x":1440,"y":2702},{"p":"R4","c":3,"s":"-","x":1403,"y":2579},{"p":"R4","c":3,"s":"-","x":1320,"y":2542},{"p":"R4","c":3,"s":"-","x":1228,"y":2591},{"p":"R4","c":3,"s":"-","x":1136,"y":2678},{"p":"R4","c":3,"s":"-","x":998,"y":2690},
{"p":"R4","c":4,"s":"-","x":1136,"y":2838},{"p":"R4","c":4,"s":"-","x":1182,"y":2912},{"p":"R4","c":4,"s":"-","x":1274,"y":2949},{"p":"R4","c":4,"s":"-","x":1320,"y":2912},{"p":"R4","c":4,"s":"-","x":1251,"y":2851},{"p":"R4","c":4,"s":"-","x":1159,"y":2807},
{"p":"R4","c":5,"s":"-","x":1389,"y":2678},{"p":"R4","c":5,"s":"-","x":1369,"y":2739},{"p":"R4","c":5,"s":"-","x":1320,"y":2764},{"p":"R4","c":5,"s":"-","x":1271,"y":2739},{"p":"R4","c":5,"s":"-","x":1251,"y":2678},{"p":"R4","c":5,"s":"-","x":1271,"y":2617},{"p":"R4","c":5,"s":"-","x":1320,"y":2592},{"p":"R4","c":5,"s":"-","x":1369,"y":2617},
{"p":"R4","c":6,"s":"+","x":1481,"y":2777},{"p":"R4","c":6,"s":"+","x":1550,"y":2851},{"p":"R4","c":6,"s":"+","x":1642,"y":2807},{"p":"R4","c":6,"s":"+","x":1780,"y":2684},{"p":"R4","c":6,"s":"+","x":1826,"y":2579},{"p":"R4","c":6,"s":"+","x":1734,"y":2542},{"p":"R4","c":6,"s":"+","x":1596,"y":2530},{"p":"R4","c":6,"s":"+","x":1504,"y":2560},{"p":"R4","c":6,"s":"+","x":1467,"y":2653},
{"p":"R4","c":7,"s":"+","x":768,"y":2622},{"p":"R4","c":7,"s":"+","x":860,"y":2665},{"p":"R4","c":7,"s":"+","x":998,"y":2622},{"p":"R4","c":7,"s":"+","x":1136,"y":2579},{"p":"R4","c":7,"s":"+","x":1228,"y":2499},{"p":"R4","c":7,"s":"+","x":1389,"y":2406},{"p":"R4","c":7,"s":"+","x":1320,"y":2345},{"p":"R4","c":7,"s":"+","x":1136,"y":2283},{"p":"R4","c":7,"s":"+","x":998,"y":2295},{"p":"R4","c":7,"s":"+","x":860,"y":2406},{"p":"R4","c":7,"s":"+","x":777,"y":2530},
{"p":"R4","c":8,"s":"+","x":998,"y":2406},{"p":"R4","c":8,"s":"+","x":1067,"y":2406},
{"p":"R4","c":9,"s":"+","x":2447,"y":1450},{"p":"R4","c":9,"s":"+","x":2654,"y":1543},{"p":"R4","c":9,"s":"+","x":2838,"y":1555},{"p":"R4","c":9,"s":"+","x":2976,"y":1450},{"p":"R4","c":9,"s":"+","x":3068,"y":1234},{"p":"R4","c":9,"s":"+","x":3045,"y":1185},{"p":"R4","c":9,"s":"+","x":2930,"y":1296},{"p":"R4","c":9,"s":"+","x":2792,"y":1357},{"p":"R4","c":9,"s":"+","x":2654,"y":1357},{"p":"R4","c":9,"s":"+","x":2539,"y":1388},
{"p":"R4","c":10,"s":"+","x":2769,"y":1438},{"p":"R4","c":10,"s":"+","x":2838,"y":1438},
{"p":"R4","c":11,"s":"+","x":2010,"y":1234},{"p":"R4","c":11,"s":"+","x":2102,"y":1308},{"p":"R4","c":11,"s":"+","x":2240,"y":1327},{"p":"R4","c":11,"s":"+","x":2369,"y":1265},{"p":"R4","c":11,"s":"+","x":2378,"y":1111},{"p":"R4","c":11,"s":"+","x":2332,"y":1018},{"p":"R4","c":11,"s":"+","x":2217,"y":1049},{"p":"R4","c":11,"s":"+","x":2102,"y":1141},
{"p":"R4","c":12,"s":"-","x":2263,"y":876},{"p":"R4","c":12,"s":"-","x":2332,"y":975},{"p":"R4","c":12,"s":"-","x":2424,"y":1000},{"p":"R4","c":12,"s":"-","x":2415,"y":1098},{"p":"R4","c":12,"s":"-","x":2424,"y":1234},{"p":"R4","c":12,"s":"-","x":2493,"y":1308},{"p":"R4","c":12,"s":"-","x":2585,"y":1320},{"p":"R4","c":12,"s":"-","x":2654,"y":1234},{"p":"R4","c":12,"s":"-","x":2723,"y":1141},{"p":"R4","c":12,"s":"-","x":2838,"y":1111},{"p":"R4","c":12,"s":"-","x":2921,"y":1080},{"p":"R4","c":12,"s":"-","x":2884,"y":987},{"p":"R4","c":12,"s":"-","x":2746,"y":895},{"p":"R4","c":12,"s":"-","x":2608,"y":833},{"p":"R4","c":12,"s":"-","x":2470,"y":790},{"p":"R4","c":12,"s":"-","x":2332,"y":790},
{"p":"R4","c":13,"s":"-","x":2585,"y":1172},{"p":"R4","c":13,"s":"-","x":2565,"y":1233},{"p":"R4","c":13,"s":"-","x":2516,"y":1258},{"p":"R4","c":13,"s":"-","x":2467,"y":1233},{"p":"R4","c":13,"s":"-","x":2447,"y":1172},{"p":"R4","c":13,"s":"-","x":2467,"y":1111},{"p":"R4","c":13,"s":"-","x":2516,"y":1086},{"p":"R4","c":13,"s":"-","x":2565,"y":1111},
{"p":"R4","c":14,"s":"-","x":2539,"y":876},{"p":"R4","c":14,"s":"-","x":2585,"y":956},{"p":"R4","c":14,"s":"-","x":2700,"y":1012},{"p":"R4","c":14,"s":"-","x":2755,"y":987},{"p":"R4","c":14,"s":"-","x":2700,"y":913},{"p":"R4","c":14,"s":"-","x":2585,"y":851},
{"p":"R4","c":15,"s":"-","x":2571,"y":481},{"p":"R4","c":15,"s":"-","x":2654,"y":586},{"p":"R4","c":15,"s":"-","x":2755,"y":679},{"p":"R4","c":15,"s":"-","x":2801,"y":691},{"p":"R4","c":15,"s":"-","x":2792,"y":629},{"p":"R4","c":15,"s":"-","x":2700,"y":543},{"p":"R4","c":15,"s":"-","x":2599,"y":457},
{"p":"R4","c":16,"s":"-","x":2817,"y":728},{"p":"R4","c":16,"s":"-","x":2829,"y":740},{"p":"R4","c":16,"s":"-","x":2841,"y":728},{"p":"R4","c":16,"s":"-","x":2829,"y":716}
]},
"hconcat":[
{"title":{"text":"SLSV","font":"Liberation Serif","fontSize":27,"fontWeight":"normal","color":"black","anchor":"middle","frame":"bounds","dx":-3,"offset":23},
"vconcat":[
{"title":"time = 0","width":274,"height":205,"transform":[{"filter":"datum.p == 'L1'"}],
"layer":[{"mark":{"type":"line","interpolate":"cardinal-closed","color":"black"},"encoding":{"x":{"field":"x","type":"quantitative","scale":{"domain":[0,3780],"nice":false,"zero":false},"axis":{"values":[0,1000,2000,3000],"title":null,"format":"d"}},"y":{"field":"y","type":"quantitative","scale":{"domain":[0,3780],"nice":false,"zero":false},"axis":{"values":[0,1000,2000,3000],"title":null,"format":"d"}},"detail":{"field":"c","type":"nominal"},"order":{"value":null},"strokeWidth":{"field":"s","type":"nominal","scale":{"domain":["+","-"],"range":[1,2.6]},"legend":null}}},
{"mark":{"type":"line","strokeOpacity":0},"encoding":{"x":{"field":"x","type":"quantitative","axis":{"orient":"top","values":[0,1000,2000,3000],"labels":false,"title":null}},"y":{"field":"y","type":"quantitative","axis":{"orient":"right","values":[0,1000,2000,3000],"labels":false,"title":null}}}}],
"resolve":{"axis":{"x":"independent","y":"independent"}}},
{"title":"time = 2 days","width":274,"height":205,"transform":[{"filter":"datum.p == 'L2'"}],
"layer":[{"mark":{"type":"line","interpolate":"cardinal-closed","color":"black"},"encoding":{"x":{"field":"x","type":"quantitative","scale":{"domain":[0,3780],"nice":false,"zero":false},"axis":{"values":[0,1000,2000,3000],"title":null,"format":"d"}},"y":{"field":"y","type":"quantitative","scale":{"domain":[0,3780],"nice":false,"zero":false},"axis":{"values":[0,1000,2000,3000],"title":null,"format":"d"}},"detail":{"field":"c","type":"nominal"},"order":{"value":null},"strokeWidth":{"field":"s","type":"nominal","scale":{"domain":["+","-"],"range":[1,2.6]},"legend":null}}},
{"mark":{"type":"line","strokeOpacity":0},"encoding":{"x":{"field":"x","type":"quantitative","axis":{"orient":"top","values":[0,1000,2000,3000],"labels":false,"title":null}},"y":{"field":"y","type":"quantitative","axis":{"orient":"right","values":[0,1000,2000,3000],"labels":false,"title":null}}}}],
"resolve":{"axis":{"x":"independent","y":"independent"}}},
{"title":"time = 4 days","width":274,"height":205,"transform":[{"filter":"datum.p == 'L3'"}],
"layer":[{"mark":{"type":"line","interpolate":"cardinal-closed","color":"black"},"encoding":{"x":{"field":"x","type":"quantitative","scale":{"domain":[0,3780],"nice":false,"zero":false},"axis":{"values":[0,1000,2000,3000],"title":null,"format":"d"}},"y":{"field":"y","type":"quantitative","scale":{"domain":[0,3780],"nice":false,"zero":false},"axis":{"values":[0,1000,2000,3000],"title":null,"format":"d"}},"detail":{"field":"c","type":"nominal"},"order":{"value":null},"strokeWidth":{"field":"s","type":"nominal","scale":{"domain":["+","-"],"range":[1,2.6]},"legend":null}}},
{"mark":{"type":"line","strokeOpacity":0},"encoding":{"x":{"field":"x","type":"quantitative","axis":{"orient":"top","values":[0,1000,2000,3000],"labels":false,"title":null}},"y":{"field":"y","type":"quantitative","axis":{"orient":"right","values":[0,1000,2000,3000],"labels":false,"title":null}}}}],
"resolve":{"axis":{"x":"independent","y":"independent"}}},
{"title":"time = 6 days","width":274,"height":205,"transform":[{"filter":"datum.p == 'L4'"}],
"layer":[{"mark":{"type":"line","interpolate":"cardinal-closed","color":"black"},"encoding":{"x":{"field":"x","type":"quantitative","scale":{"domain":[0,3780],"nice":false,"zero":false},"axis":{"values":[0,1000,2000,3000],"title":null,"format":"d"}},"y":{"field":"y","type":"quantitative","scale":{"domain":[0,3780],"nice":false,"zero":false},"axis":{"values":[0,1000,2000,3000],"title":null,"format":"d"}},"detail":{"field":"c","type":"nominal"},"order":{"value":null},"strokeWidth":{"field":"s","type":"nominal","scale":{"domain":["+","-"],"range":[1,2.6]},"legend":null}}},
{"mark":{"type":"line","strokeOpacity":0},"encoding":{"x":{"field":"x","type":"quantitative","axis":{"orient":"top","values":[0,1000,2000,3000],"labels":false,"title":null}},"y":{"field":"y","type":"quantitative","axis":{"orient":"right","values":[0,1000,2000,3000],"labels":false,"title":null}}}}],
"resolve":{"axis":{"x":"independent","y":"independent"}}}
],"spacing":82,"bounds":"flush"},
{"title":{"text":"SLSV-SISL","font":"Liberation Serif","fontSize":27,"fontWeight":"normal","color":"black","anchor":"middle","frame":"bounds","dx":50,"offset":23},
"vconcat":[
{"title":"time = 0","width":274,"height":205,"transform":[{"filter":"datum.p == 'R1'"}],
"layer":[{"mark":{"type":"line","interpolate":"cardinal-closed","color":"black"},"encoding":{"x":{"field":"x","type":"quantitative","scale":{"domain":[0,3780],"nice":false,"zero":false},"axis":{"values":[0,1000,2000,3000],"title":null,"format":"d"}},"y":{"field":"y","type":"quantitative","scale":{"domain":[0,3780],"nice":false,"zero":false},"axis":{"values":[0,1000,2000,3000],"title":null,"format":"d"}},"detail":{"field":"c","type":"nominal"},"order":{"value":null},"strokeWidth":{"field":"s","type":"nominal","scale":{"domain":["+","-"],"range":[1,2.6]},"legend":null}}},
{"mark":{"type":"line","strokeOpacity":0},"encoding":{"x":{"field":"x","type":"quantitative","axis":{"orient":"top","values":[0,1000,2000,3000],"labels":false,"title":null}},"y":{"field":"y","type":"quantitative","axis":{"orient":"right","values":[0,1000,2000,3000],"labels":false,"title":null}}}}],
"resolve":{"axis":{"x":"independent","y":"independent"}}},
{"title":"time = 2 days","width":274,"height":205,"view":{"stroke":"black","strokeWidth":2},"transform":[{"filter":"datum.p == 'R2'"}],
"layer":[{"mark":{"type":"line","interpolate":"cardinal-closed","color":"black"},"encoding":{"x":{"field":"x","type":"quantitative","scale":{"domain":[0,3780],"nice":false,"zero":false},"axis":{"values":[0,1000,2000,3000],"title":null,"format":"d","tickColor":"black"}},"y":{"field":"y","type":"quantitative","scale":{"domain":[0,3780],"nice":false,"zero":false},"axis":{"values":[0,1000,2000,3000],"title":null,"format":"d","tickColor":"black"}},"detail":{"field":"c","type":"nominal"},"order":{"value":null},"strokeWidth":{"field":"s","type":"nominal","scale":{"domain":["+","-"],"range":[1,2.6]},"legend":null}}},
{"mark":{"type":"line","strokeOpacity":0},"encoding":{"x":{"field":"x","type":"quantitative","axis":{"orient":"top","values":[0,1000,2000,3000],"labels":false,"title":null,"tickColor":"black"}},"y":{"field":"y","type":"quantitative","axis":{"orient":"right","values":[0,1000,2000,3000],"labels":false,"title":null,"tickColor":"black"}}}}],
"resolve":{"axis":{"x":"independent","y":"independent"}}},
{"title":"time = 4 days","width":274,"height":205,"view":{"stroke":"black","strokeWidth":2},"transform":[{"filter":"datum.p == 'R3'"}],
"layer":[{"mark":{"type":"line","interpolate":"cardinal-closed","color":"black"},"encoding":{"x":{"field":"x","type":"quantitative","scale":{"domain":[0,3780],"nice":false,"zero":false},"axis":{"values":[0,1000,2000,3000],"title":null,"format":"d","tickColor":"black"}},"y":{"field":"y","type":"quantitative","scale":{"domain":[0,3780],"nice":false,"zero":false},"axis":{"values":[0,1000,2000,3000],"title":null,"format":"d","tickColor":"black"}},"detail":{"field":"c","type":"nominal"},"order":{"value":null},"strokeWidth":{"field":"s","type":"nominal","scale":{"domain":["+","-"],"range":[1,2.6]},"legend":null}}},
{"mark":{"type":"line","strokeOpacity":0},"encoding":{"x":{"field":"x","type":"quantitative","axis":{"orient":"top","values":[0,1000,2000,3000],"labels":false,"title":null,"tickColor":"black"}},"y":{"field":"y","type":"quantitative","axis":{"orient":"right","values":[0,1000,2000,3000],"labels":false,"title":null,"tickColor":"black"}}}}],
"resolve":{"axis":{"x":"independent","y":"independent"}}},
{"title":"time = 6 days","width":274,"height":205,"view":{"stroke":"black","strokeWidth":2},"transform":[{"filter":"datum.p == 'R4'"}],
"layer":[{"mark":{"type":"line","interpolate":"cardinal-closed","color":"black"},"encoding":{"x":{"field":"x","type":"quantitative","scale":{"domain":[0,3780],"nice":false,"zero":false},"axis":{"values":[0,1000,2000,3000],"title":null,"format":"d","tickColor":"black"}},"y":{"field":"y","type":"quantitative","scale":{"domain":[0,3780],"nice":false,"zero":false},"axis":{"values":[0,1000,2000,3000],"title":null,"format":"d","tickColor":"black"}},"detail":{"field":"c","type":"nominal"},"order":{"value":null},"strokeWidth":{"field":"s","type":"nominal","scale":{"domain":["+","-"],"range":[1,2.6]},"legend":null}}},
{"mark":{"type":"line","strokeOpacity":0},"encoding":{"x":{"field":"x","type":"quantitative","axis":{"orient":"top","values":[0,1000,2000,3000],"labels":false,"title":null,"tickColor":"black"}},"y":{"field":"y","type":"quantitative","axis":{"orient":"right","values":[0,1000,2000,3000],"labels":false,"title":null,"tickColor":"black"}}}}],
"resolve":{"axis":{"x":"independent","y":"independent"}}}
],"spacing":82,"bounds":"flush"}
],"spacing":58}
